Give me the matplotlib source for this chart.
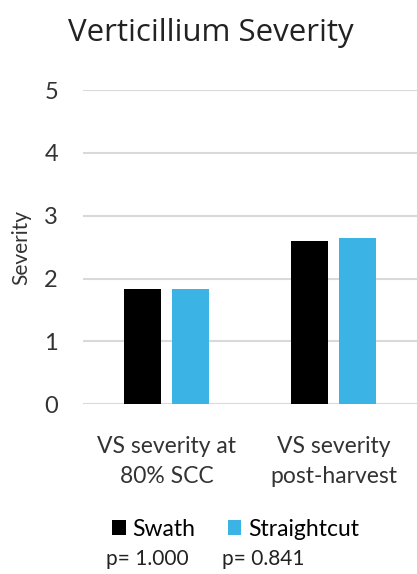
import matplotlib.pyplot as plt
import numpy as np

categories = ["VS severity at\n80% SCC", "VS severity\npost-harvest"]
swath = [1.84, 2.60]
straightcut = [1.84, 2.64]
series_names = ["Swath", "Straightcut"]
p_values = ["p= 1.000", "p= 0.841"]

plt.rcParams['font.family'] = ['Lato', 'DejaVu Sans']

fig = plt.figure(figsize=(4.17, 5.74), dpi=100)
ax = fig.add_axes([0.199, 0.296, 0.801, 0.547])

x = np.arange(len(categories))
w = 0.22
b1 = ax.bar(x - 0.145, swath, w, color="black", label=series_names[0], zorder=3)
b2 = ax.bar(x + 0.145, straightcut, w, color="#3bb4e5", label=series_names[1], zorder=3)

ax.set_xlim(-0.5, 1.5)
ax.set_ylim(0, 5)
ax.set_yticks(range(0, 6))
ax.yaxis.grid(True, color="#d9d9d9", linewidth=1.5, zorder=0)
ax.set_axisbelow(True)
for s in ax.spines.values():
    s.set_visible(False)
ax.tick_params(axis="y", length=0, labelsize=17, colors="#333333", pad=18)
ax.tick_params(axis="x", length=0, pad=23)
ax.set_xticks(x)
ax.set_xticklabels(categories, fontsize=16.5, color="#333333", linespacing=1.55)
ax.set_ylabel("Severity", fontsize=15, color="#333333", labelpad=9)

fig.text(0.505, 0.943, "Verticillium Severity", ha="center", va="center", fontsize=22.5,
         color="#222222", family=["Open Sans", "DejaVu Sans"])

fig.legend(handles=[b1, b2], labels=series_names, loc="center", bbox_to_anchor=(0.565, 0.078),
           ncol=2, frameon=False, fontsize=16.5, handlelength=0.6, handleheight=0.6,
           handletextpad=0.3, columnspacing=1.4)

fig.text(0.255, 0.026, p_values[0], fontsize=15, ha="left", va="center", color="#222222")
fig.text(0.533, 0.026, p_values[1], fontsize=15, ha="left", va="center", color="#222222")

fig.savefig("out.png", dpi=100)
